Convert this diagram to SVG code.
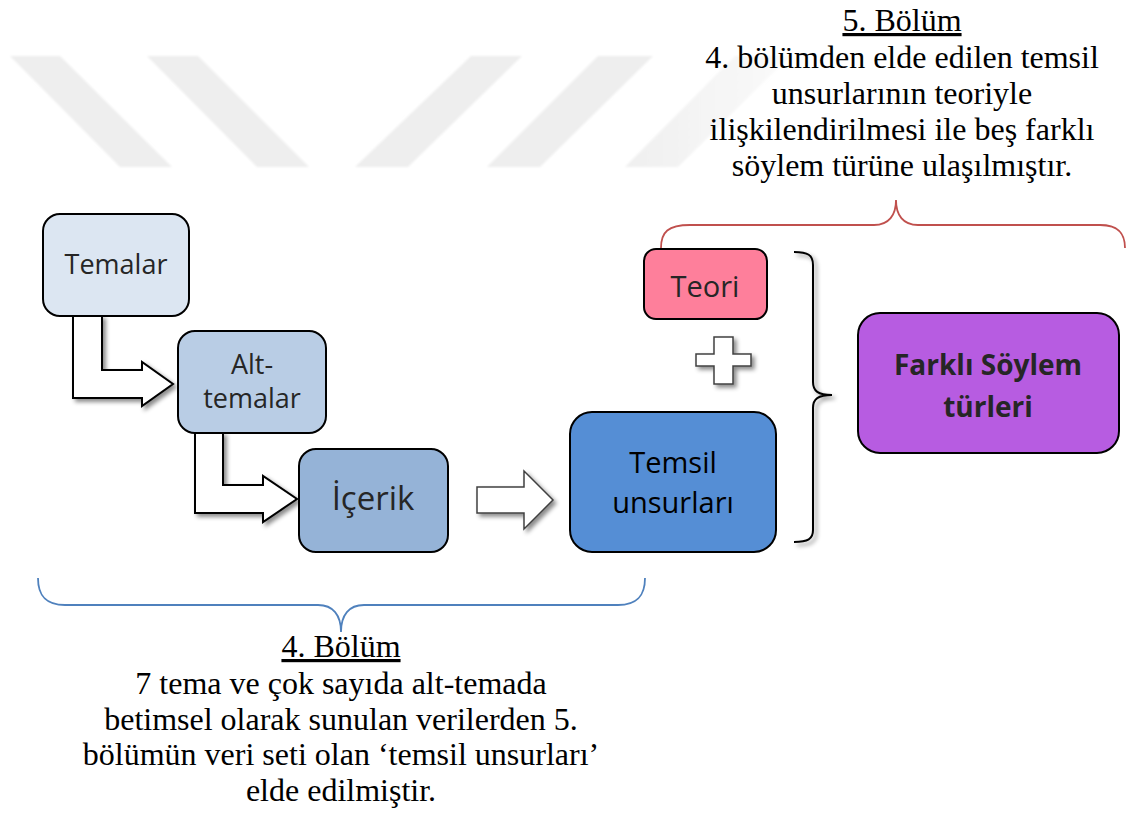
<svg xmlns="http://www.w3.org/2000/svg" width="1128" height="815" viewBox="0 0 1128 815">
<defs>
<filter id="shadow" x="-20%" y="-20%" width="150%" height="150%">
<feDropShadow dx="3" dy="3" stdDeviation="2" flood-color="#000" flood-opacity="0.45"/>
</filter>
<filter id="soft" x="-5%" y="-5%" width="110%" height="110%">
<feGaussianBlur stdDeviation="0.8"/>
</filter>
<linearGradient id="fade" gradientUnits="userSpaceOnUse" x1="620" y1="0" x2="800" y2="0">
<stop offset="0" stop-color="#efefef"/>
<stop offset="1" stop-color="#fbfbfb"/>
</linearGradient>
<style>
.box{stroke:#000;stroke-width:2}
.lbl{font-family:"Open Sans","Noto Sans","DejaVu Sans",sans-serif;text-anchor:middle;fill:#262626}
.bold{font-weight:bold}
.note{font-family:"Liberation Serif","Times New Roman",serif;font-size:32px;text-anchor:middle;fill:#000}
.arrow{fill:#fff;stroke:#000;stroke-width:2;stroke-linejoin:miter;filter:url(#shadow)}
.wm{fill:#eeeeee;filter:url(#soft)}
</style>
</defs>
<rect width="1128" height="815" fill="#fff"/>
<g id="watermark">
<polygon class="wm" points="10,56 60,56 172,167 120,167"/>
<polygon class="wm" points="147,56 198,56 309,167 257,167"/>
<polygon class="wm" points="471,56 522,56 408,167 355,167"/>
<polygon class="wm" points="598,56 653,56 540,167 487,167"/>
<polygon points="735,56 790,56 678,167 625,167" fill="url(#fade)" filter="url(#soft)"/>
</g>
<g id="connectors">
<polygon class="arrow" points="73,316 102,316 102,370 142,370 142,362 173,384 142,406 142,398 73,398"/>
<polygon class="arrow" points="195,433 223,433 223,485 263,485 263,476 297,499 263,522 263,513 195,513"/>
<polygon class="arrow" style="stroke:#404040;stroke-width:1.5" points="477,487 524,487 524,471 553,500 524,529 524,513 477,513"/>
<polygon id="plus" class="arrow" style="stroke:#404040;stroke-width:1.5" points="714,337 733,337 733,354 751,354 751,366 733,366 733,384 714,384 714,366 696,366 696,354 714,354"/>
<path id="brace-black" d="M794,252 C808,252 813,255 813,265 L813,382 C813,391 818,395 832,395 C818,395 813,399 813,408 L813,530 C813,539 808,542 794,542" fill="none" stroke="#000" stroke-width="2" filter="url(#shadow)"/>
<path id="brace-red" d="M661,248 C661,232 668,225 690,225 L874,225 C889,225 896,215 896,200 C896,215 903,225 918,225 L1100,225 C1120,225 1125,235 1125,248" fill="none" stroke="#c0504d" stroke-width="1.8"/>
<path id="brace-blue" d="M38,578 C38,595 45,605 65,605 L318,605 C333,605 341,615 341,632 C341,615 349,605 364,605 L618,605 C638,605 645,595 645,578" fill="none" stroke="#4f81bd" stroke-width="1.8"/>
</g>
<g id="temalar">
<rect class="box" x="43" y="214" width="146" height="102" rx="17" fill="#dce6f2"/>
<text class="lbl" x="116" y="274" font-size="27">Temalar</text>
</g>
<g id="alt-temalar">
<rect class="box" x="178" y="331" width="148" height="102" rx="17" fill="#b9cde5"/>
<text class="lbl" x="252" y="374" font-size="27">Alt-</text>
<text class="lbl" x="252" y="408" font-size="27">temalar</text>
</g>
<g id="icerik">
<rect class="box" x="299" y="449" width="149" height="103" rx="17" fill="#95b3d7"/>
<text class="lbl" x="373" y="510" font-size="33">İçerik</text>
</g>
<g id="teori">
<rect class="box" x="644" y="249" width="123" height="70" rx="12" fill="#fe7f9b"/>
<text class="lbl" x="705" y="297" font-size="29">Teori</text>
</g>
<g id="temsil">
<rect class="box" x="570" y="412" width="206" height="140" rx="22" fill="#558ed5"/>
<text class="lbl" x="673" y="473" font-size="29" style="fill:#000">Temsil</text>
<text class="lbl" x="673" y="513" font-size="29" style="fill:#000">unsurları</text>
</g>
<g id="farkli">
<rect class="box" x="858" y="313" width="261" height="140" rx="22" fill="#b75ce1"/>
<text class="lbl bold" x="988" y="375" font-size="28">Farklı Söylem</text>
<text class="lbl bold" x="988" y="417" font-size="28">türleri</text>
</g>
<g id="note-5">
<text class="note" x="902" y="31" text-decoration="underline">5. Bölüm</text>
<text class="note" x="902" y="68">4. bölümden elde edilen temsil</text>
<text class="note" x="902" y="104">unsurlarının teoriyle</text>
<text class="note" x="902" y="140">ilişkilendirilmesi ile beş farklı</text>
<text class="note" x="902" y="176">söylem türüne ulaşılmıştır.</text>
</g>
<g id="note-4">
<text class="note" x="341" y="657" text-decoration="underline">4. Bölüm</text>
<text class="note" x="341" y="694">7 tema ve çok sayıda alt-temada</text>
<text class="note" x="341" y="730">betimsel olarak sunulan verilerden 5.</text>
<text class="note" x="341" y="765">bölümün veri seti olan ‘temsil unsurları’</text>
<text class="note" x="341" y="801">elde edilmiştir.</text>
</g>
</svg>
